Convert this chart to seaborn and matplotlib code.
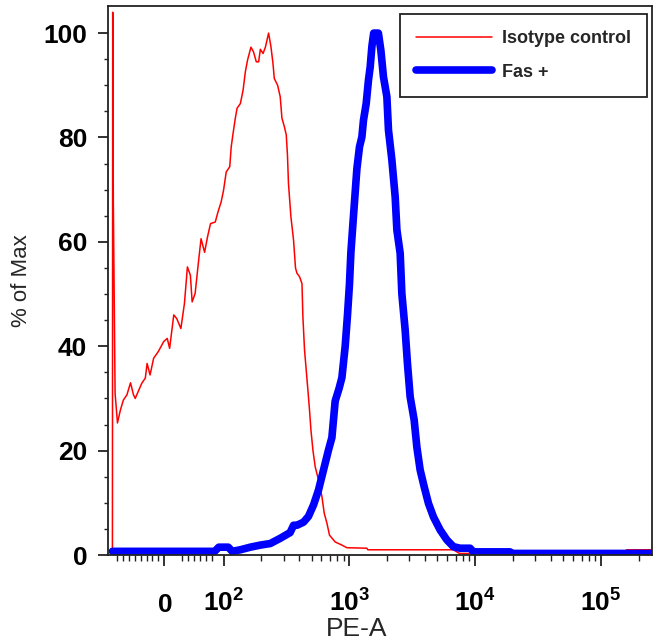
import numpy as np
import pandas as pd
import matplotlib
matplotlib.use("Agg")
import matplotlib.pyplot as plt
import seaborn as sns
from matplotlib.ticker import FixedLocator, FixedFormatter

# Isotype control histogram (PE-A value, % of max)
iso_x = [-87.5, -87, -86, -83, -79, -74, -69, -63, -57, -52, -49, -43, -38, -32,
         -29, -24, -18, -10, -1, 5, 9, 16, 21, 28, 34, 39, 44, 47, 52, 58, 62, 68,
         73, 78, 86, 90, 96, 100, 105, 112, 115, 119, 124, 128, 136, 143, 149, 155,
         165, 173, 182, 190, 196, 206, 215, 228, 238, 247, 253, 269, 282, 291, 304,
         315, 322, 328, 343, 360, 373, 383, 394, 402, 420, 427, 440, 454, 468, 482,
         495, 513, 535, 568, 605, 631, 663, 695, 771, 872, 955, 1377, 1400, 6700,
         7500, 150000, 160000, 250000]
iso_y = [0, 104, 68, 31, 25.3, 27.8, 29.7, 30.7, 33, 30.7, 30, 31.6, 32.9, 33.9,
         36.7, 34.5, 37.7, 39, 40.9, 41.5, 39.6, 46, 45.3, 43.4, 48.2, 55.2, 53.6,
         48.5, 50.1, 56.5, 60.6, 58, 61, 63.5, 63.8, 65.5, 67.7, 69.9, 73.4, 74.4,
         78.2, 80.8, 83.7, 85.6, 86.5, 89.1, 92.6, 94.8, 97.3, 96.4, 94.5, 94.5,
         96.9, 96.1, 97.3, 100, 97.4, 94.2, 91.3, 90, 87.8, 83.7, 82.1, 80.5, 76.6,
         71.2, 64.8, 60.3, 55, 54, 53.6, 53.3, 52, 45.7, 39.3, 35.4, 31.6, 27.8,
         23.9, 20.1, 16.9, 14.4, 11.2, 8, 6.1, 3.8, 2.5, 1.9, 1.4, 1.3, 1.0, 1.0,
         0.3, 0.3, 1.0, 1.0]

# Fas+ histogram
fas_x = [-87.5, 85, 92, 109, 117, 136, 163, 196, 235, 282, 338, 360, 383, 432,
         473, 519, 569, 623, 682, 726, 771, 830, 872, 926, 966, 1002, 1028, 1078,
         1147, 1203, 1257, 1294, 1360, 1418, 1463, 1509, 1560, 1700, 1779, 1866,
         1986, 2045, 2176, 2312, 2385, 2533, 2612, 2775, 2894, 3041, 3271, 3437,
         3651, 3928, 4250, 4656, 5264, 5949, 6711, 7586, 9109, 9676, 18930, 19530,
         250000]
fas_y = [0.7, 0.7, 1.5, 1.5, 0.7, 1.0, 1.5, 1.9, 2.2, 3.2, 4.3, 5.7, 5.7, 6.3,
         7.4, 9.6, 12.5, 16.3, 20.1, 22.5, 29.5, 32, 34, 40, 46, 52, 58, 65, 74,
         78.2, 80.1, 83.3, 86.5, 91, 93.5, 97.4, 100, 100, 96.7, 91.6, 87.8, 81.4,
         75.7, 68.6, 62.3, 57.8, 50.1, 43.1, 36.7, 30.3, 25.9, 20.7, 16.3, 13.1,
         9.9, 7.3, 4.8, 2.9, 1.6, 1.3, 1.3, 0.6, 0.6, 0.3, 0.3]

major_ticks = [0, 100, 1000, 10000, 100000]
major_labels = ["$0$", "$10^{2}$", "$10^{3}$", "$10^{4}$", "$10^{5}$"]
minor_ticks = ([-80, -70, -60, -50, -40, -30, -20, -10, 30, 40, 50, 60, 70, 80]
               + [m * 10 ** e for e in (2, 3, 4) for m in range(2, 10)] + [200000])

sns.set_style("ticks")
plt.rcParams["font.family"] = ["Liberation Sans", "DejaVu Sans"]
plt.rcParams["mathtext.fontset"] = "custom"
plt.rcParams["mathtext.rm"] = "Liberation Sans:bold"
plt.rcParams["mathtext.it"] = "Liberation Sans:bold"
plt.rcParams["mathtext.bf"] = "Liberation Sans:bold"

fig = plt.figure(figsize=(6.6, 6.42), dpi=100)
ax = fig.add_axes([0.1636, 0.1355, 0.9874 - 0.1636, 0.9907 - 0.1355])

iso = pd.DataFrame({"PE-A": iso_x, "pct": iso_y})
fas = pd.DataFrame({"PE-A": fas_x, "pct": fas_y})
sns.lineplot(data=iso, x="PE-A", y="pct", sort=False, color="#ff0000",
             linewidth=1.1, ax=ax, label="Isotype control")
sns.lineplot(data=fas, x="PE-A", y="pct", sort=False, color="#0000ff",
             linewidth=5.5, ax=ax, label="Fas +")

ax.set_xscale("symlog", linthresh=100, linscale=0.424)
ax.set_xlim(-95, 252700)
ax.set_ylim(0, 105.2)

ax.xaxis.set_major_locator(FixedLocator(major_ticks))
ax.xaxis.set_major_formatter(FixedFormatter(major_labels))
ax.xaxis.set_minor_locator(FixedLocator(minor_ticks))
ax.set_yticks([0, 20, 40, 60, 80, 100])
ax.yaxis.set_minor_locator(FixedLocator(list(range(5, 105, 5))))

ax.tick_params(axis="x", which="major", length=8, width=1.3, pad=33,
               labelsize=19, colors="#222222")
ax.tick_params(axis="x", which="minor", length=4, width=1.0, colors="#222222")
ax.tick_params(axis="y", which="major", length=7, width=1.3, pad=8,
               labelsize=19, colors="#222222")
ax.tick_params(axis="y", which="minor", length=3, width=1.0, colors="#222222")
for lab in ax.get_yticklabels():
    lab.set_fontweight("bold")
    lab.set_color("black")
for lab in ax.get_xticklabels():
    lab.set_color("black")
    lab.set_verticalalignment("baseline")

for sp in ax.spines.values():
    sp.set_visible(True)
    sp.set_linewidth(1.3)
    sp.set_color("#222222")

ax.set_xlabel("PE-A", fontsize=19)
ax.xaxis.set_label_coords(0.458, -0.112)
ax.set_ylabel("% of Max", fontsize=16, labelpad=8)

leg = ax.legend(loc="upper right", bbox_to_anchor=(0.991, 0.985), borderaxespad=0,
                fancybox=False, framealpha=1, edgecolor="#222222",
                handlelength=4.2, prop={"weight": "bold", "size": 13},
                borderpad=0.9, labelspacing=0.9, handletextpad=0.55)
leg.get_frame().set_linewidth(1.3)

fig.savefig("out.png", dpi=100)
